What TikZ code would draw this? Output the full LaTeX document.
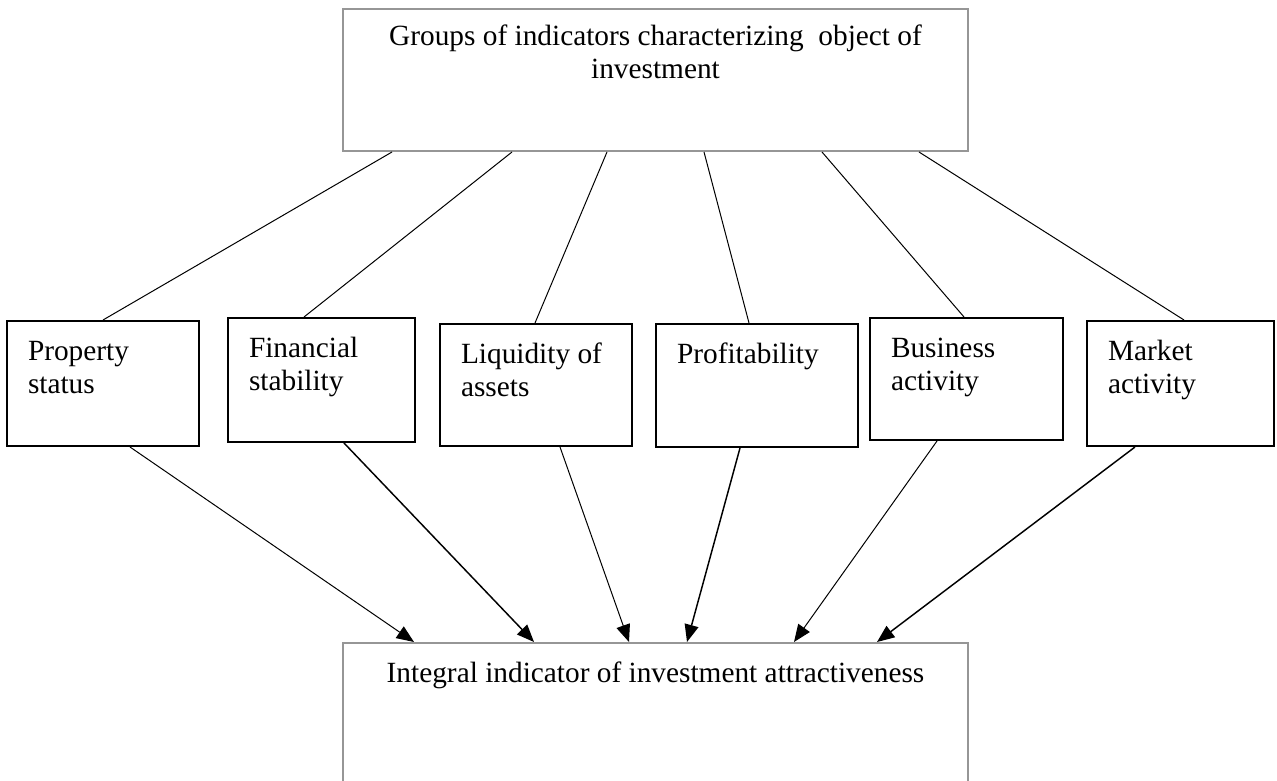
\documentclass[tikz,border=0pt]{standalone}
\usepackage{fontspec}
\setmainfont{Liberation Serif}
\usetikzlibrary{arrows.meta}
\definecolor{framegray}{RGB}{150,150,150}
\tikzset{every picture/.style={line width=0.75pt}}
\tikzset{
  bigbox/.style={draw=framegray, line width=1.5pt, inner xsep=15.75pt, inner ysep=9.75pt, font=\fontsize{22}{24.75}\selectfont},
  midbox/.style={draw, line width=1.5pt, inner xsep=15.75pt, inner ysep=12pt, font=\fontsize{22}{24.75}\selectfont},
  link/.style={line width=0.75pt},
  feed/.style={-{Triangle[length=13pt,width=10.5pt]}},
}

\begin{document}
\begin{tikzpicture}[x=0.75pt,y=0.75pt,yscale=-1,xscale=1]
\useasboundingbox (0,0) rectangle (1277,781);
\clip (0,0) rectangle (1277,781);

%Shape: Rectangle [groups]
\node[bigbox] (groups) at (655.5,80) {\begin{minipage}[t][87pt][t]{437.25pt}\centering
\strut Groups of indicators characterizing~ object of\\investment
\end{minipage}};
%Shape: Rectangle [integral]
\node[bigbox, inner ysep=12pt] (integral) at (655.5,721.5) {\begin{minipage}[t][93.75pt][t]{437.25pt}\centering
\strut Integral indicator of investment attractiveness
\end{minipage}};

%Shape: Rectangle [prop]
\node[midbox] (prop) at (103,383.5) {\begin{minipage}[t][69.75pt][t]{112.5pt}\raggedright
\strut Property\\status
\end{minipage}};
%Shape: Rectangle [fin]
\node[midbox] (fin) at (321.5,380) {\begin{minipage}[t][69pt][t]{108.75pt}\raggedright
\strut Financial\\stability
\end{minipage}};
%Shape: Rectangle [liq]
\node[midbox] (liq) at (536,385) {\begin{minipage}[t][67.5pt][t]{112.5pt}\raggedright
\strut Liquidity of\\assets
\end{minipage}};
%Shape: Rectangle [prof]
\node[midbox] (prof) at (757,385.5) {\begin{minipage}[t][68.25pt][t]{120pt}\raggedright
\strut Profitability
\end{minipage}};
%Shape: Rectangle [bus]
\node[midbox] (bus) at (966.5,379) {\begin{minipage}[t][67.5pt][t]{113.25pt}\raggedright
\strut Business\\activity
\end{minipage}};
%Shape: Rectangle [mkt]
\node[midbox] (mkt) at (1180.5,383.5) {\begin{minipage}[t][69.75pt][t]{108.75pt}\raggedright
\strut Market\\activity
\end{minipage}};

%Straight Lines [groups to boxes]
\draw[link] ([xshift=37.5pt]groups.south west) -- ([xshift=72.75pt]prop.north west);
\draw[link] ([xshift=127.5pt]groups.south west) -- ([xshift=57.75pt]fin.north west);
\draw[link] ([xshift=198.75pt]groups.south west) -- ([xshift=72pt]liq.north west);
\draw[link] ([xshift=271.5pt]groups.south west) -- ([xshift=70.5pt]prof.north west);
\draw[link] ([xshift=360pt]groups.south west) -- ([xshift=71.25pt]bus.north west);
\draw[link] ([xshift=432.75pt]groups.south west) -- ([xshift=73.5pt]mkt.north west);

%Straight Lines [boxes to integral]
\draw[link, feed] ([xshift=93pt]prop.south west) -- ([xshift=54pt]integral.north west);
\draw[link, feed, line width=1.1pt] ([xshift=87.75pt]fin.south west) -- ([xshift=144pt]integral.north west);
\draw[link, feed] ([xshift=90.75pt]liq.south west) -- ([xshift=215.25pt]integral.north west);
\draw[link, feed, line width=1.1pt] ([xshift=63.75pt]prof.south west) -- ([xshift=258.75pt]integral.north west);
\draw[link, feed] ([xshift=51pt]bus.south west) -- ([xshift=339pt]integral.north west);
\draw[link, feed, line width=1.1pt] ([xshift=36.75pt]mkt.south west) -- ([xshift=401.25pt]integral.north west);

\end{tikzpicture}
\end{document}
